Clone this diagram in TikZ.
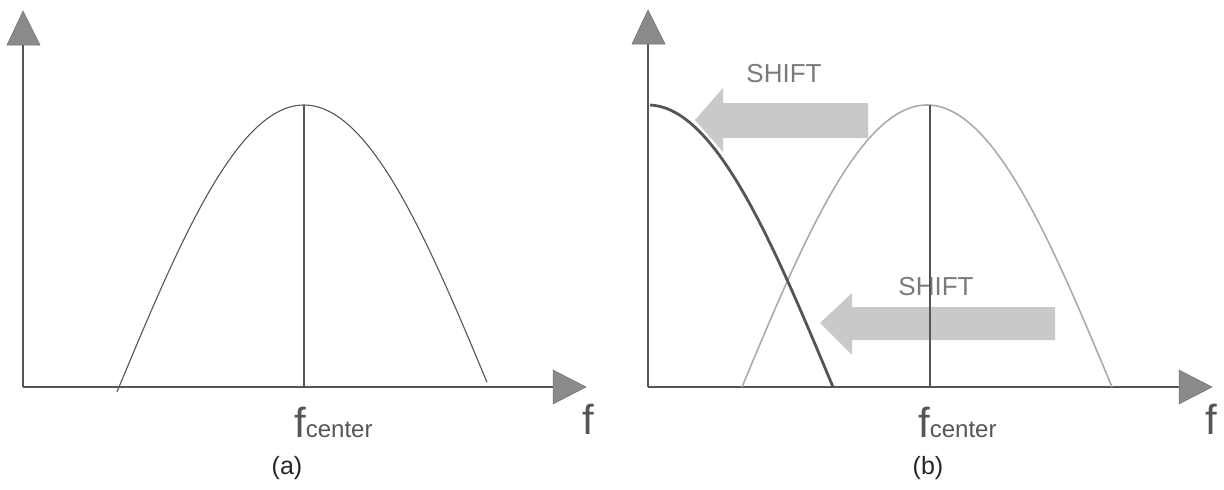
\documentclass[tikz,border=0pt]{standalone}
\usepackage{fontspec}
\setmainfont{Liberation Sans}
\definecolor{axisc}{HTML}{555555}
\definecolor{headc}{HTML}{8A8A8A}
\definecolor{lightc}{HTML}{ABABAB}
\definecolor{shiftc}{HTML}{C9C9C9}
\definecolor{textc}{HTML}{7A7A7A}
\tikzset{
  axisline/.style={draw=axisc, line width=1.6pt},
  axishead/.style={fill=headc, draw=headc!80!black, line width=0.5pt},
  bellthin/.style={draw=axisc, line width=1.1pt},
  belllight/.style={draw=lightc, line width=1.6pt},
  belldark/.style={draw=axisc, line width=2.8pt},
  centerline/.style={draw=axisc, line width=1.4pt},
  shiftarrow/.style={fill=shiftc, draw=none},
  bigf/.style={inner sep=0pt, font=\fontsize{42}{44}\selectfont, text=axisc},
  lbl/.style={inner sep=0pt, font=\fontsize{25}{28}\selectfont, text=black!85},
  shifttxt/.style={inner sep=0pt, font=\fontsize{26}{28}\selectfont, text=textc}
}
\begin{document}
\begin{tikzpicture}[x=1pt,y=-1pt]
\useasboundingbox (0,0) rectangle (1224,490);
% ---------- panel (a) ----------
\coordinate (aO) at (23,387);
\coordinate (aY) at (23,45);
\coordinate (aX) at (553,387);
\draw[axisline] (aO) -- (aY);
\draw[axisline] (aO) -- (aX);
\filldraw[axishead] (23,11) -- (7,45) -- (40,45) -- cycle;
\filldraw[axishead] (586,387) -- (553,370) -- (553,404) -- cycle;
\draw[bellthin] plot[domain=117:487, samples=80, smooth] (\x,{387-282*cos(0.486486*(\x-304))});
\coordinate (aP) at (304,105);
\coordinate (aB) at (304,387);
\draw[centerline] (aP) -- (aB);
\node[bigf, anchor=base] (af) at (588,434) {f};
\node[bigf, anchor=base west] (afc) at (294,437) {f\fontsize{24}{26}\selectfont center};
\node[lbl, anchor=center] (alab) at (287,468) {(a)};
% ---------- panel (b) ----------
\coordinate (bO) at (648,387);
\coordinate (bY) at (648,44);
\coordinate (bX) at (1179,387);
\draw[axisline] (bO) -- (bY);
\draw[axisline] (bO) -- (bX);
\filldraw[axishead] (648,10) -- (632,44) -- (665,44) -- cycle;
\filldraw[axishead] (1212,387) -- (1179,370) -- (1179,404) -- cycle;
% shift arrows
\fill[shiftarrow] (695,120) -- (723,88) -- (723,103) -- (868,103) -- (868,138) -- (723,138) -- (723,152) -- cycle;
\fill[shiftarrow] (820,323) -- (852,293) -- (852,307) -- (1055,307) -- (1055,340) -- (852,340) -- (852,355) -- cycle;
\node[shifttxt] (s1) at (784,74) {SHIFT};
\node[shifttxt] (s2) at (936,287) {SHIFT};
\draw[belllight] plot[domain=742:1112, samples=80, smooth] (\x,{387-282*cos(0.486486*(\x-927))});
\draw[belldark] plot[domain=650:833, samples=60, smooth] (\x,{387-282*cos(0.486486*(\x-648))});
\coordinate (bP) at (930,105);
\coordinate (bB) at (930,387);
\draw[centerline] (bP) -- (bB);
\node[bigf, anchor=base] (bf) at (1211,434) {f};
\node[bigf, anchor=base west] (bfc) at (918,437) {f\fontsize{24}{26}\selectfont center};
\node[lbl, anchor=center] (blab) at (928,468) {(b)};
\end{tikzpicture}
\end{document}
